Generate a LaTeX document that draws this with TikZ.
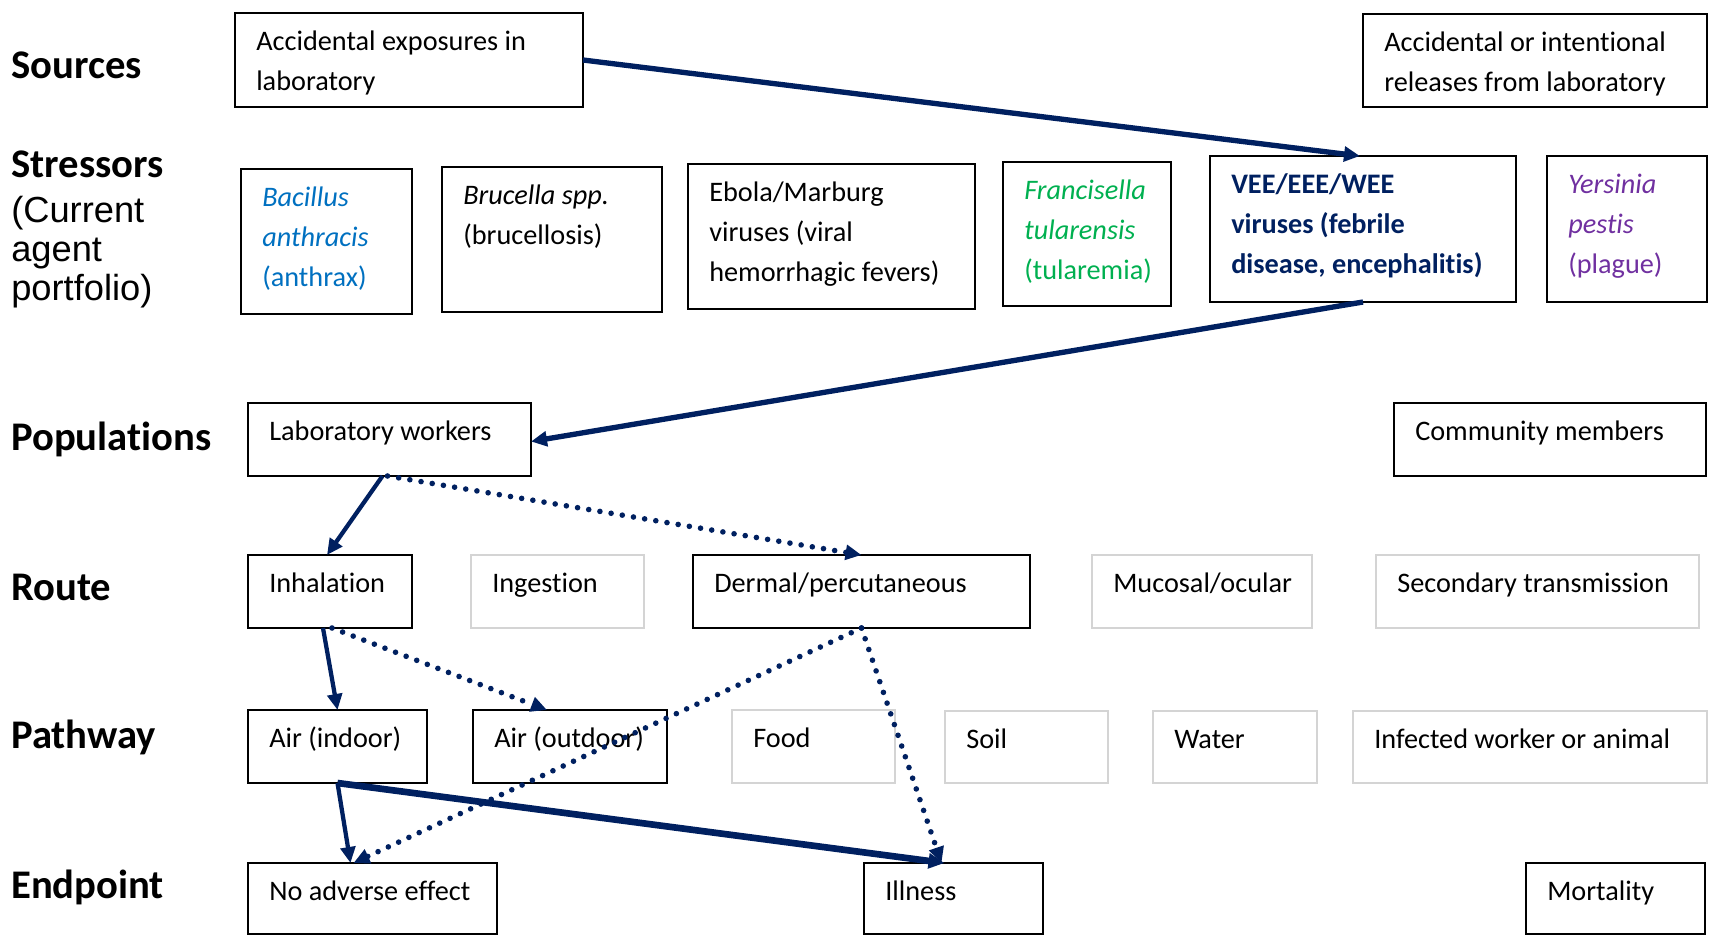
\documentclass[tikz,border=0pt]{standalone}
\usepackage{fontspec}
\setmainfont{Carlito}[Ligatures=NoCommon]
\newfontfamily\arialfont{Liberation Sans}
\usetikzlibrary{arrows.meta}
\definecolor{navy}{HTML}{002060}
\definecolor{bacblue}{HTML}{0070C0}
\definecolor{fragreen}{HTML}{00B050}
\definecolor{yerpurple}{HTML}{7030A0}
\definecolor{faint}{HTML}{D4D4D4}

% a box given by its corners (in px), with top-left aligned text
% #1 name, #2 x1, #3 y1, #4 x2, #5 y2, #6 extra style, #7 text
\newcommand{\cell}[7]{%
  \pgfmathsetmacro\cw{#4-#2}\pgfmathsetmacro\ch{#5-#3}%
  \node[cellbox,#6,minimum width=\cw*0.75pt,minimum height=\ch*0.75pt,anchor=north west] (#1) at (#2,#3) {};
  \node[celltext,anchor=base west] (#1-t) at ([shift={(21,37)}]#1.north west)
    {\parbox[t]{\dimexpr(\cw pt-28pt)*3/4\relax}{\leavevmode#7}};
}

\begin{document}
\begin{tikzpicture}[x=0.75pt,y=-0.75pt,
  cellbox/.style={draw=black,line width=1.5pt,inner sep=0pt,outer sep=0pt},
  faintbox/.style={draw=faint},
  celltext/.style={inner sep=0pt,font=\fontsize{21.2pt}{30pt}\selectfont,text=black},
  lblbold/.style={inner sep=0pt,font=\fontsize{30.5pt}{36pt}\selectfont\bfseries},
  lblarial/.style={inner sep=0pt,font=\fontsize{27.2pt}{29.3pt}\selectfont\arialfont},
  tip/.style={-{Triangle[length=12pt,width=11pt]}},
  link/.style={draw=navy,line width=4pt,tip},
  thinlink/.style={draw=navy,line width=3.2pt,tip},
  heavylink/.style={draw=navy,line width=5pt,tip},
  dotlink/.style={draw=navy,line width=4.2pt,line cap=round,dash pattern=on 0pt off 8.5pt,tip},
]
\useasboundingbox (0,0) rectangle (1709,935);

% row labels
\node[lblbold,anchor=base west] (lsrc) at (11,78) {Sources};
\node[lblbold,anchor=base west] (lstr) at (11,177) {Stressors};
\node[lblarial,anchor=base west] (lcur) at (11,222) {\parbox[t]{6cm}{(Current\\agent\\portfolio)}};
\node[lblbold,anchor=base west] (lpop) at (11,450) {Populations};
\node[lblbold,anchor=base west] (lrou) at (11,600) {Route};
\node[lblbold,anchor=base west] (lpat) at (11,748) {Pathway};
\node[lblbold,anchor=base west] (lend) at (11,898) {Endpoint};

% sources
\cell{src1}{235}{13}{583}{107}{}{Accidental exposures in\\laboratory}
\cell{src2}{1363}{14}{1707}{107}{}{Accidental or intentional\\releases from laboratory}

% stressors
\cell{bac}{241}{169}{412}{314}{}{\color{bacblue}{\itshape Bacillus\\anthracis}\\(anthrax)}
\cell{bru}{442}{167}{662}{312}{}{{\itshape Brucella spp.}\\(brucellosis)}
\cell{ebo}{688}{164}{975}{309}{}{Ebola/Marburg\\viruses (viral\\hemorrhagic fevers)}
\cell{fra}{1003}{162}{1171}{306}{}{\color{fragreen}{\itshape Francisella\\tularensis}\\(tularemia)}
\cell{vee}{1210}{156}{1516}{302}{}{\color{navy}\bfseries VEE/EEE/WEE\\viruses (febrile\\disease, encephalitis)}
\cell{yer}{1547}{156}{1707}{302}{}{\color{yerpurple}{\itshape Yersinia\\pestis}\\(plague)}

% populations
\cell{lab}{248}{403}{531}{476}{}{Laboratory workers}
\cell{com}{1394}{403}{1706}{476}{}{Community members}

% routes
\cell{inh}{248}{555}{412}{628}{}{Inhalation}
\cell{ing}{471}{555}{644}{628}{faintbox}{Ingestion}
\cell{der}{693}{555}{1030}{628}{}{Dermal/percutaneous}
\cell{muc}{1092}{555}{1312}{628}{faintbox}{Mucosal/ocular}
\cell{sec}{1376}{555}{1699}{628}{faintbox}{Secondary transmission}

% pathways
\cell{ain}{248}{710}{427}{783}{}{Air (indoor)}
\cell{aout}{473}{710}{667}{783}{}{Air (outdoor)}
\cell{food}{732}{710}{895}{783}{faintbox}{Food}
\cell{soil}{945}{711}{1108}{783}{faintbox}{Soil}
\cell{wat}{1153}{711}{1317}{783}{faintbox}{Water}
\cell{inf}{1353}{711}{1707}{783}{faintbox}{Infected worker or animal}

% endpoints
\cell{noad}{248}{863}{497}{934}{}{No adverse effect}
\cell{ill}{864}{863}{1043}{934}{}{Illness}
\cell{mort}{1526}{863}{1705}{934}{}{Mortality}

% connectors
\draw[link] (src1.east) -- ([shift={(-3,0)}]vee.north);
\draw[link] (vee.south) -- ([shift={(0,2)}]lab.east);
\draw[thinlink] ([shift={(-7,0)}]lab.south) -- ([shift={(-3,0)}]inh.north);
\draw[dotlink] ([shift={(-2,0)}]lab.south) -- (der.north);
\draw[thinlink] ([shift={(-7,0)}]inh.south) -- (ain.north);
\draw[dotlink] ([shift={(2,0)}]inh.south) -- ([shift={(-23,0)}]aout.north);
\draw[dotlink] (der.south) -- ([shift={(-19,0)}]noad.north);
\draw[dotlink] (der.south) -- ([shift={(-12,0)}]ill.north);
\draw[thinlink] (ain.south) -- ([shift={(-22,0)}]noad.north);
\draw[heavylink] (ain.south) -- ([shift={(-9,0)}]ill.north);
\end{tikzpicture}
\end{document}
